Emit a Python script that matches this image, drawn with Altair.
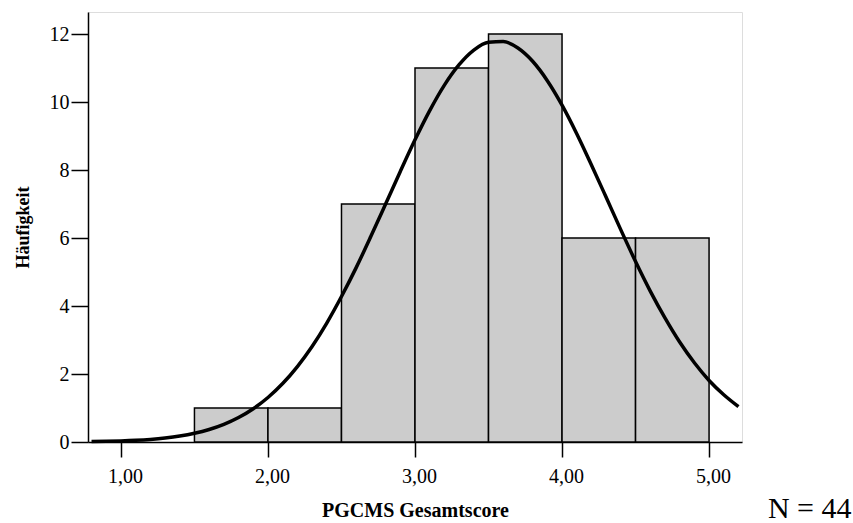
import altair as alt
import pandas as pd

# Histogram bins (PGCMS Gesamtscore) and frequencies
bin_start = [1.5, 2.0, 2.5, 3.0, 3.5, 4.0, 4.5]
bin_end = [2.0, 2.5, 3.0, 3.5, 4.0, 4.5, 5.0]
counts = [1, 1, 7, 11, 12, 6, 6]

# Normal curve
curve_x = [0.8, 0.9, 1.0, 1.1, 1.2, 1.3, 1.4, 1.5, 1.6, 1.7, 1.8, 1.9, 2.0,
           2.1, 2.2, 2.3, 2.4, 2.5, 2.6, 2.7, 2.8, 2.9, 3.0, 3.1, 3.2, 3.3,
           3.4, 3.5, 3.6, 3.7, 3.8, 3.9, 4.0, 4.1, 4.2, 4.3, 4.4, 4.5, 4.6,
           4.7, 4.8, 4.9, 5.0, 5.1, 5.2]
curve_y = [0.012, 0.020, 0.032, 0.050, 0.077, 0.117, 0.174, 0.255, 0.367,
           0.518, 0.719, 0.979, 1.31, 1.72, 2.22, 2.81, 3.50, 4.28, 5.13,
           6.05, 7.00, 7.96, 8.89, 9.75, 10.50, 11.10, 11.53, 11.76, 11.78,
           11.59, 11.20, 10.63, 9.91, 9.07, 8.15, 7.20, 6.24, 5.31, 4.44,
           3.65, 2.94, 2.33, 1.81, 1.39, 1.04]

x_ticks = [1, 2, 3, 4, 5]
y_ticks = [0, 2, 4, 6, 8, 10, 12]

FONT = "Liberation Serif"

bars_df = pd.DataFrame({"start": bin_start, "end": bin_end, "count": counts})
curve_df = pd.DataFrame({"x": curve_x, "y": curve_y})

xscale = alt.Scale(domain=[0.776, 5.224], nice=False, zero=False)
yscale = alt.Scale(domain=[0, 12.65], nice=False)

xaxis = alt.Axis(
    values=x_ticks,
    labelExpr="replace(format(datum.value, '.2f'), '.', ',')",
    title="PGCMS Gesamtscore",
    grid=False,
    tickSize=15,
    tickColor="black",
    tickWidth=1.5,
    domainColor="black",
    domainWidth=1.5,
    labelFont=FONT,
    labelFontSize=20,
    labelColor="black",
    labelPadding=9,
    labelOffset=4,
    titleFont=FONT,
    titleFontSize=20,
    titleFontWeight="bold",
    titleColor="black",
    titlePadding=14,
)

yaxis = alt.Axis(
    values=y_ticks,
    title="Häufigkeit",
    grid=False,
    tickSize=17,
    tickColor="black",
    tickWidth=1.5,
    domainColor="black",
    domainWidth=1.5,
    labelFont=FONT,
    labelFontSize=20,
    labelColor="black",
    labelPadding=2,
    titleFont=FONT,
    titleFontSize=18,
    titleFontWeight="bold",
    titleColor="black",
    titlePadding=17,
)

bars = alt.Chart(bars_df).mark_bar(
    color="#cccccc", stroke="black", strokeWidth=1.5
).encode(
    x=alt.X("start:Q", scale=xscale, axis=xaxis),
    x2="end:Q",
    y=alt.Y("count:Q", scale=yscale, axis=yaxis),
    y2=alt.datum(0),
)

curve = alt.Chart(curve_df).mark_line(
    color="black", strokeWidth=3.5, interpolate="monotone"
).encode(
    x=alt.X("x:Q", scale=xscale),
    y=alt.Y("y:Q", scale=yscale),
)

chart = alt.layer(bars, curve).properties(
    width=654,
    height=430,
    padding={"left": 88, "top": 12, "right": 111, "bottom": 81},
    autosize=alt.AutoSizeParams(type="none"),
    title=alt.TitleParams(
        text="N = 44",
        orient="bottom",
        anchor="end",
        font=FONT,
        fontSize=30,
        fontWeight="normal",
        color="black",
        dx=106,
        offset=-26,
    ),
).configure_view(
    stroke="black", strokeWidth=1
).configure(background="white")

chart.save("out.html", embed_options={"renderer": "svg", "actions": False})
